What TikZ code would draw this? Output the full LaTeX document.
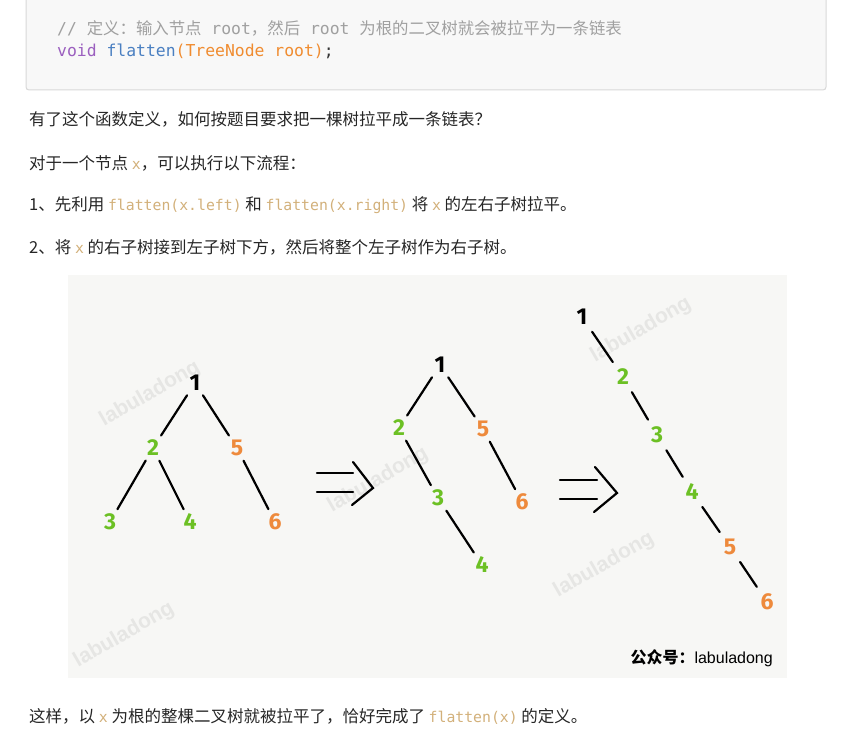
\documentclass[tikz,border=0pt]{standalone}
\usepackage{fontspec}
\setmainfont{Noto Sans CJK SC}
\setmonofont{DejaVu Sans Mono}
\newfontfamily\numfont{Fira Sans}
\newfontfamily\wmfont{Liberation Sans}

\definecolor{codebg}{HTML}{F8F8F8}
\definecolor{codeframe}{HTML}{D8D8D8}
\definecolor{cmt}{HTML}{A0A0A0}
\definecolor{kwd}{HTML}{9B5FBF}
\definecolor{fn}{HTML}{4A7FC1}
\definecolor{arg}{HTML}{F08C30}
\definecolor{inl}{HTML}{D2B07A}
\definecolor{picbg}{HTML}{F7F7F5}
\definecolor{wm}{HTML}{E6E6E4}
\definecolor{lgreen}{HTML}{6CC024}
\definecolor{rorange}{HTML}{EE8A3C}

\newcommand{\tc}[1]{{\ttfamily #1}}
\newcommand{\ic}[1]{{\ttfamily\fontsize{14.8}{17}\selectfont\color{inl}#1}}

\begin{document}
\begin{tikzpicture}[x=1pt,y=-1pt,
  txt/.style={anchor=west,inner sep=0pt,text=black!85,font=\fontsize{16.5}{20}\selectfont},
  codetxt/.style={anchor=west,inner sep=0pt,font=\fontsize{16.4}{20}\selectfont},
  num/.style={inner sep=1pt,font=\numfont\bfseries\fontsize{23}{23}\selectfont},
  root/.style={num,text=black},
  lft/.style={num,text=lgreen},
  rgt/.style={num,text=rorange},
  edge/.style={line width=2.2pt,line cap=round},
  link/.style={edge,shorten <=4pt,shorten >=4pt},
  wmark/.style={text=wm,rotate=30,font=\wmfont\bfseries\fontsize{21}{21}\selectfont}]
\useasboundingbox (0,0) rectangle (856,733);

% code block
\fill[codebg] (26,0) rectangle (826,90);
\draw[codeframe,line width=1pt,rounded corners=3pt] (26,0) -- (26,90) -- (826,90) -- (826,0);
\node[codetxt,text=cmt] (comment) at (57,28) {\tc{// }定义：输入节点\tc{ root}，然后\tc{ root }为根的二叉树就会被拉平为一条链表};
\node[codetxt] (decl) at (57,51) {\tc{\textcolor{kwd}{void} \textcolor{fn}{flatten}\textcolor{arg}{(TreeNode root)}\textcolor{black!80};}};

% text
\node[txt] (line1) at (29,119) {有了这个函数定义，如何按题目要求把一棵树拉平成一条链表？};
\node[txt] (line2) at (29,163) {对于一个节点 \ic{x}，可以执行以下流程：};
\node[txt] (line3) at (29,205) {1、先利用 \ic{flatten(x.left)} 和 \ic{flatten(x.right)} 将 \ic{x} 的左右子树拉平。};
\node[txt] (line4) at (29,247) {2、将 \ic{x} 的右子树接到左子树下方，然后将整个左子树作为右子树。};
\node[txt] (line5) at (29,716) {这样，以 \ic{x} 为根的整棵二叉树就被拉平了，恰好完成了 \ic{flatten(x)} 的定义。};

% picture
\fill[picbg] (68,275) rectangle (787,678);
\node[wmark] at (150,394) {labuladong};
\node[wmark] at (378,480) {labuladong};
\node[wmark] at (124,635) {labuladong};
\node[wmark] at (641,330) {labuladong};
\node[wmark] at (604,565) {labuladong};

% first tree
\node[root] (a1) at (195,383) {1};
\node[lft] (a2) at (153,448) {2};
\node[rgt] (a5) at (237,448) {5};
\node[lft] (a3) at (110,522) {3};
\node[lft] (a4) at (190,522) {4};
\node[rgt] (a6) at (275,522) {6};
\draw[link] (a1) -- (a2);
\draw[link] (a1) -- (a5);
\draw[link] (a2) -- (a3);
\draw[link] (a2) -- (a4);
\draw[link] (a5) -- (a6);

% first arrow
\draw[edge] (317,473) -- (353,473) (317,492) -- (353,492);
\draw[edge] (353,462) -- (373,488) -- (352,505);

% second tree
\node[root] (b1) at (440,365) {1};
\node[lft] (b2) at (399,428) {2};
\node[rgt] (b5) at (483,429) {5};
\node[lft] (b3) at (438,498) {3};
\node[rgt] (b6) at (522,502) {6};
\node[lft] (b4) at (482,565) {4};
\draw[link] (b1) -- (b2);
\draw[link] (b1) -- (b5);
\draw[link] (b2) -- (b3);
\draw[link] (b5) -- (b6);
\draw[link] (b3) -- (b4);

% second arrow
\draw[edge] (560,480) -- (597,480) (560,499) -- (597,499);
\draw[edge] (595,467) -- (617,493) -- (594,512);

% flattened list
\node[root] (c1) at (582,317) {1};
\node[lft] (c2) at (623,377) {2};
\node[lft] (c3) at (657,435) {3};
\node[lft] (c4) at (692,492) {4};
\node[rgt] (c5) at (730,547) {5};
\node[rgt] (c6) at (767,602) {6};
\draw[link,shorten <=7pt,shorten >=7pt] (c1) -- (c2);
\draw[link,shorten <=7pt,shorten >=7pt] (c2) -- (c3);
\draw[link,shorten <=7pt,shorten >=7pt] (c3) -- (c4);
\draw[link,shorten <=7pt,shorten >=7pt] (c4) -- (c5);
\draw[link,shorten <=7pt,shorten >=7pt] (c5) -- (c6);

\node[anchor=east,inner sep=0pt,font=\fontsize{16}{18}\selectfont] (sign) at (773,658) {\textbf{公众号：}{\wmfont labuladong}};
\end{tikzpicture}
\end{document}
